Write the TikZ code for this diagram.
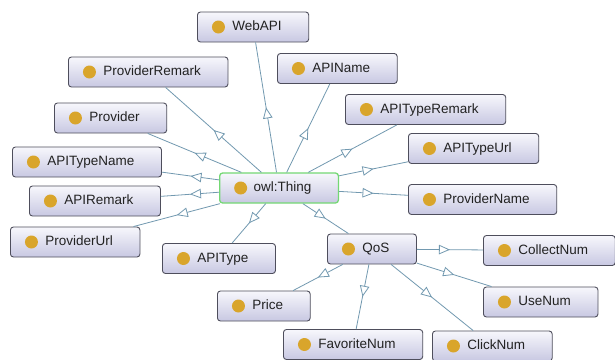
\documentclass[tikz,border=0pt]{standalone}
\usepackage{fontspec}
\setmainfont{Liberation Sans}
\usetikzlibrary{arrows.meta,decorations.markings}
\definecolor{boxtop}{HTML}{F7F7FC}
\definecolor{boxbot}{HTML}{C8C8E2}
\definecolor{boxline}{HTML}{4E4E5C}
\definecolor{dotc}{HTML}{D9A52B}
\definecolor{edgec}{HTML}{7299B0}
\definecolor{thingline}{HTML}{74D874}
\definecolor{txt}{HTML}{222222}
\tikzset{
  cls/.style={draw=boxline, line width=0.9pt, rounded corners=3pt,
    top color=boxtop, bottom color=boxbot, anchor=west,
    minimum height=30pt, inner ysep=0pt, inner xsep=0pt,
    text=txt, font=\fontsize{13.5pt}{15pt}\selectfont,
    text height=10pt, text depth=3pt,
    path picture={\fill[dotc] ([xshift=21pt]path picture bounding box.west) circle (6.5pt);}},
  edge/.style={draw=edgec, line width=0.8pt, postaction={decorate},
    decoration={markings, mark=at position 0.5 with {\arrow{Triangle[fill=white,length=11pt,width=9.5pt]}}}}
}
\newcommand{\cnode}[4]{\node[cls, minimum width=0pt] (#1) at (#2,#3) {\hspace*{35pt}#4\hspace*{27pt}};}
\begin{document}
\begin{tikzpicture}[x=1pt,y=-1pt]
\useasboundingbox[fill=white] (0,0) rectangle (615,359);
\cnode{webapi}{197}{27}{WebAPI}
\cnode{provrem}{68}{72}{ProviderRemark}
\cnode{apiname}{277}{68.5}{APIName}
\cnode{apityperem}{345}{109.5}{APITypeRemark}
\cnode{provider}{54}{118}{Provider}
\cnode{apitypeurl}{408}{148.5}{APITypeUrl}
\cnode{apitypename}{12}{162}{APITypeName}
\node[cls, draw=thingline, line width=1.3pt, minimum width=0pt] (thing) at (219,188) {\hspace*{34pt}owl:Thing\hspace*{27pt}};
\cnode{provname}{408}{199.5}{ProviderName}
\cnode{apirem}{29}{201}{APIRemark}
\cnode{provurl}{10}{242}{ProviderUrl}
\cnode{apitype}{162}{258.5}{APIType}
\cnode{qos}{327}{249}{QoS}
\cnode{collect}{483}{250.5}{CollectNum}
\cnode{use}{483}{302}{UseNum}
\cnode{price}{217}{306}{Price}
\cnode{fav}{283}{344.5}{FavoriteNum}
\cnode{click}{432}{346}{ClickNum}
\foreach \n in {webapi,provrem,apiname,apityperem,provider,apitypeurl,apitypename,provname,apirem,provurl,apitype,qos}
  \draw[edge] (thing) -- (\n);
\foreach \n in {collect,use,price,fav,click}
  \draw[edge] (qos) -- (\n);
\end{tikzpicture}
\end{document}
